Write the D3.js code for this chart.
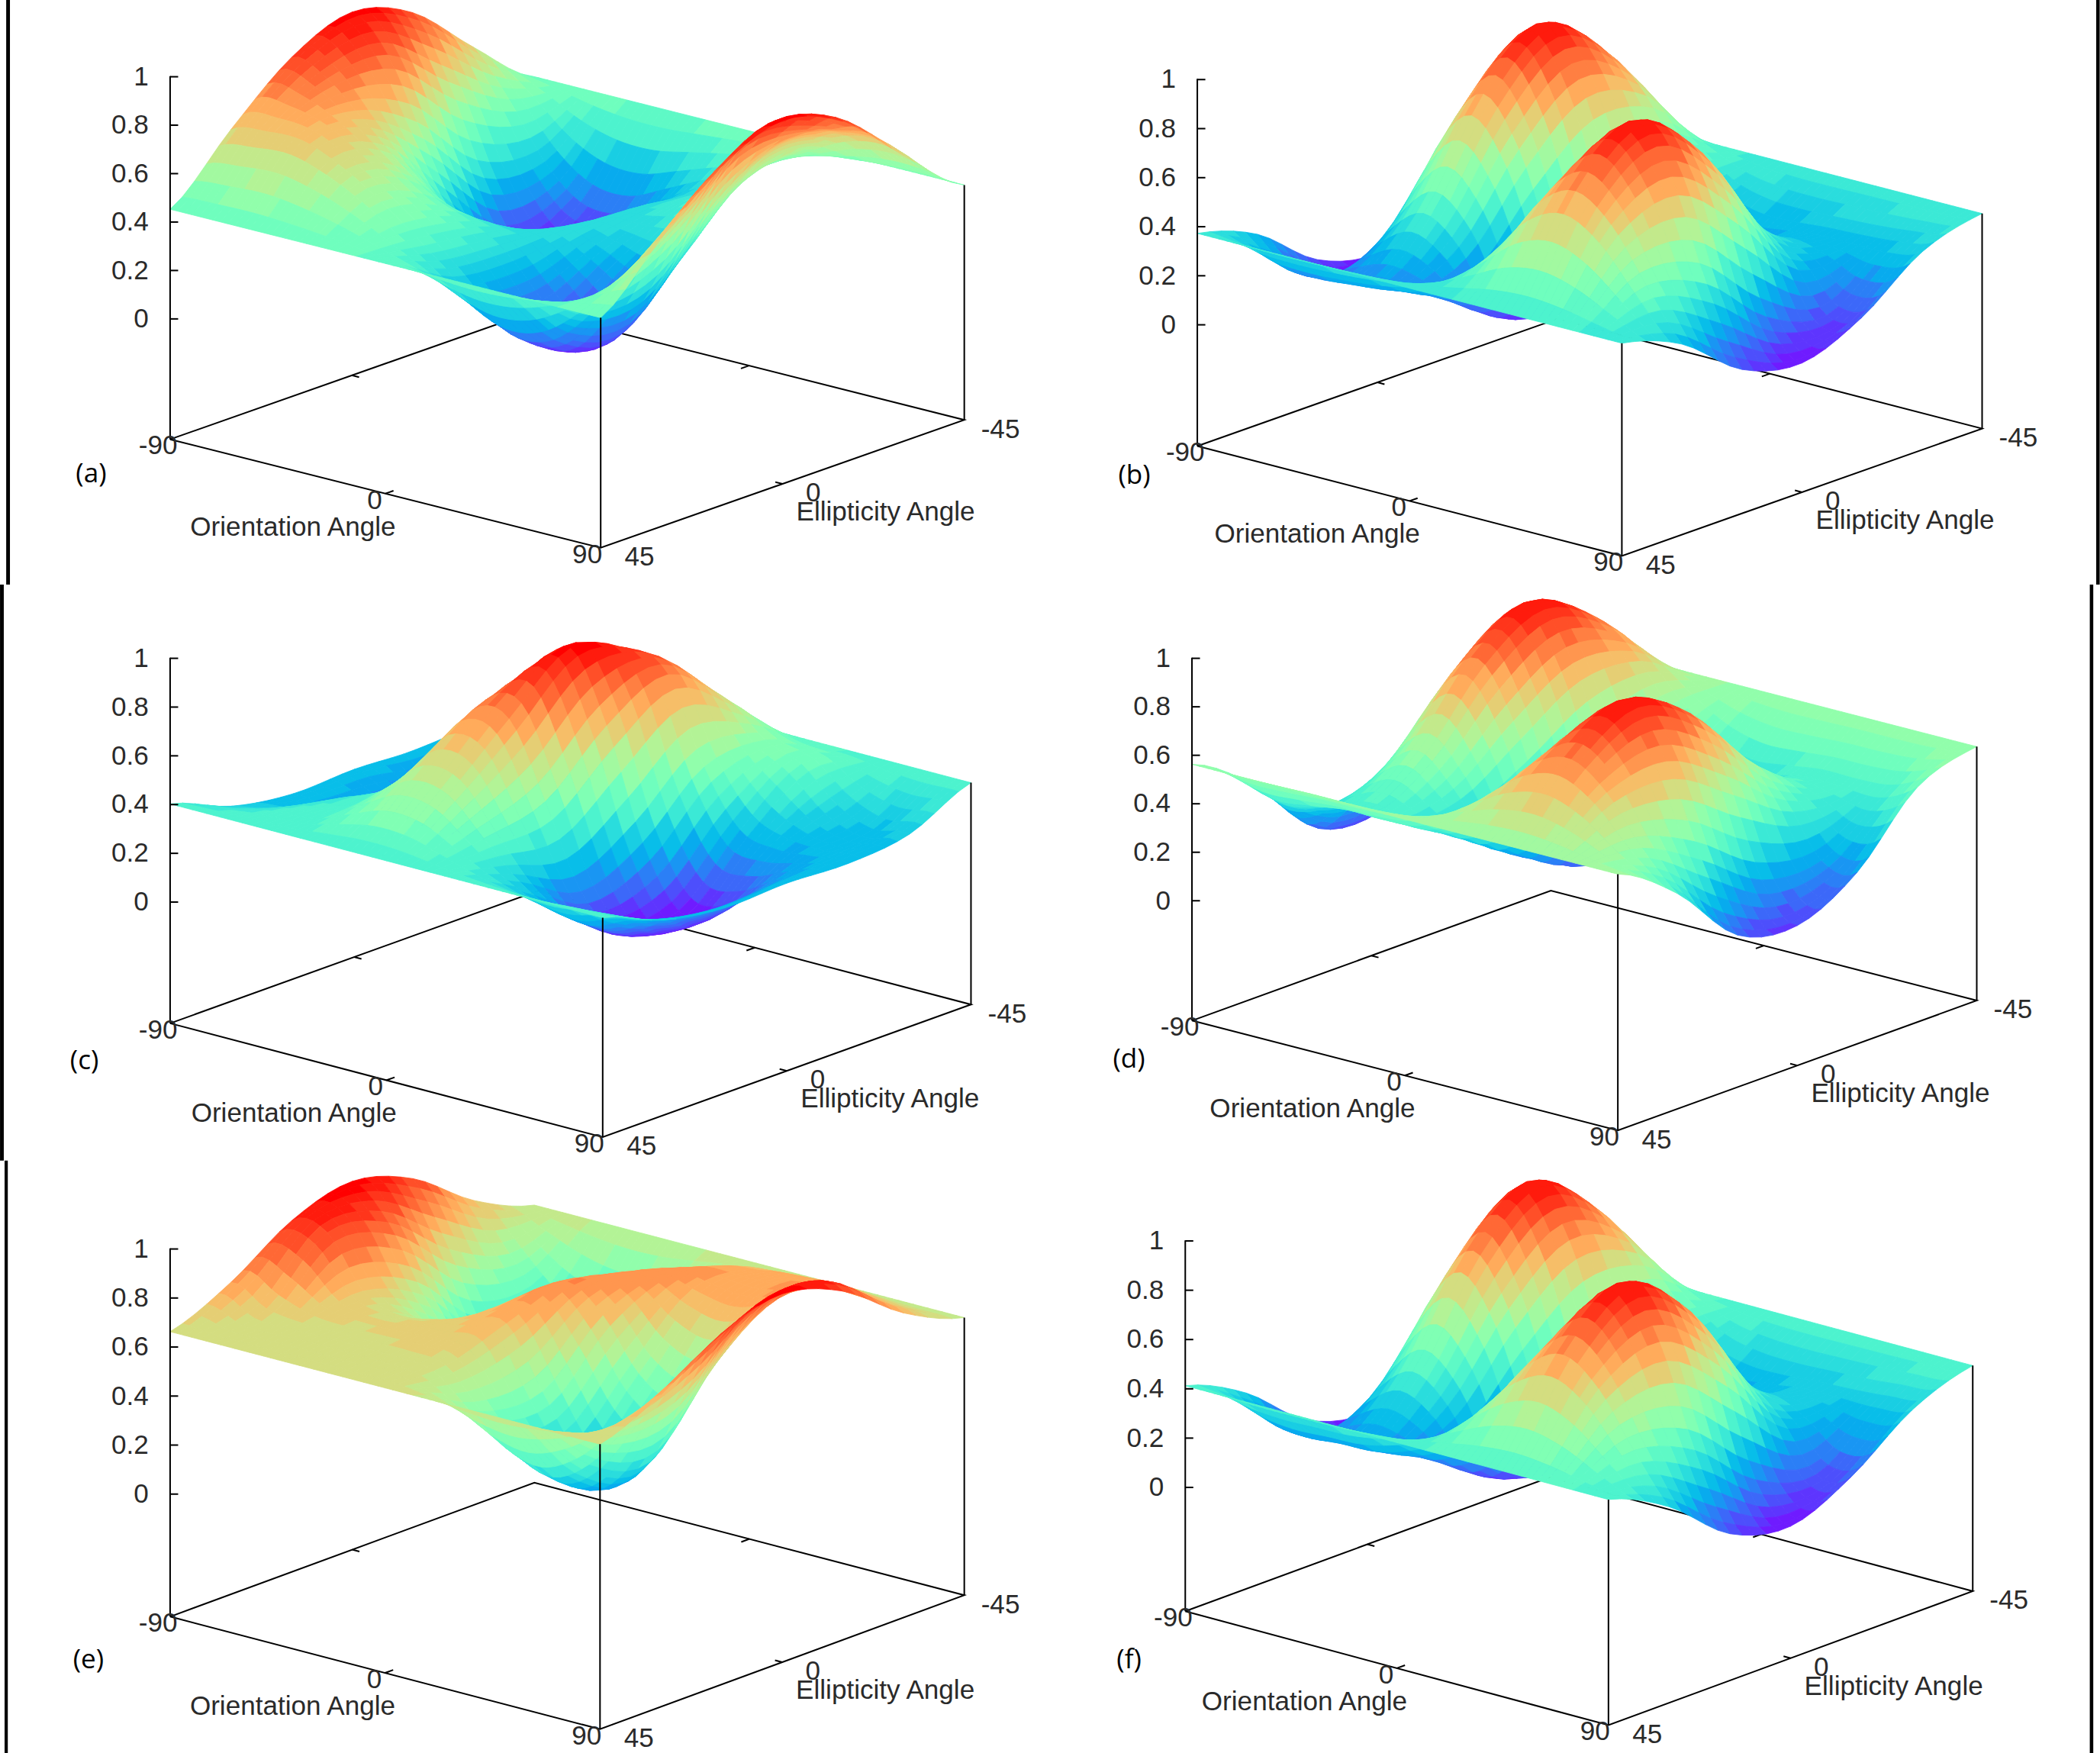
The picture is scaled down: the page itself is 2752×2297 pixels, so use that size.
<!DOCTYPE html>
<html lang="en">
<head>
  <meta charset="UTF-8">
  <title>Polarization signatures</title>
  <script src="https://cdn.jsdelivr.net/npm/d3@7"></script>
  <style>
    html, body { margin: 0; padding: 0; background: #fff; }
    svg { display: block; }
    text { font-family: "Liberation Sans", Arial, sans-serif; font-size: 20px; fill: #2a2a2a; }
    .tag { font-family: "Open Sans", sans-serif; font-size: 20px; fill: #000; }
    .axis path { display: none; }
    .axis line, .edge { stroke: #000; stroke-width: 1.15; fill: none; }
  </style>
</head>
<body>
<script>
  // tick labels
  const orientationTicks = [-90, 0, 90];
  const ellipticityTicks = [45, 0, -45];
  const heightTicks = [0, 0.2, 0.4, 0.6, 0.8, 1];

  // table axes: columns are orientation angles, rows are ellipticity angles
  const orientationAngles = [-90, -75, -60, -45, -30, -15, 0, 15, 30, 45, 60, 75, 90];
  const ellipticityAngles = [-45, -30, -15, 0, 15, 30, 45];

  // surface heights, one row per ellipticity angle
  const surfaceA = [
    [.47, .47, .47, .47, .47, .47, .47, .47, .47, .47, .47, .47, .47],
    [.68, .50, .28, .15, .14, .22, .31, .38, .48, .58, .68, .72, .68],
    [.91, .66, .30, .05, .06, .17, .32, .36, .42, .52, .72, .84, .91],
    [1.0, .86, .55, .27, .21, .28, .33, .28, .22, .29, .55, .86, 1.0],
    [.90, .85, .72, .58, .47, .41, .32, .16, .03, .07, .32, .66, .90],
    [.69, .72, .72, .66, .57, .46, .34, .21, .13, .16, .30, .50, .69],
    [.45, .45, .45, .45, .45, .45, .45, .45, .45, .45, .45, .45, .45]
  ];
  const surfaceB = [
    [.38, .38, .38, .38, .38, .38, .38, .38, .38, .38, .38, .38, .38],
    [.31, .50, .71, .79, .69, .48, .30, .24, .25, .27, .27, .27, .31],
    [.13, .43, .82, .99, .80, .40, .11, .10, .28, .39, .29, .10, .13],
    [.03, .23, .61, .79, .60, .22, .03, .23, .61, .79, .60, .18, .03],
    [.09, .08, .28, .39, .29, .07, .10, .43, .82, .99, .80, .40, .09],
    [.28, .17, .17, .19, .20, .22, .31, .50, .71, .79, .69, .48, .28],
    [.37, .37, .37, .37, .37, .37, .37, .37, .37, .37, .37, .37, .37]
  ];
  const surfaceC = [
    [.41, .41, .41, .41, .41, .41, .41, .41, .41, .41, .41, .41, .41],
    [.29, .18, .12, .15, .30, .50, .66, .64, .52, .46, .33, .27, .29],
    [.26, .12, .02, .04, .31, .72, .90, .84, .50, .28, .24, .25, .26],
    [.27, .20, .11, .17, .47, .84, 1.0, .72, .28, .04, .06, .18, .27],
    [.26, .25, .32, .40, .55, .80, .80, .50, .17, .04, .08, .18, .26],
    [.30, .33, .38, .40, .50, .60, .58, .44, .30, .22, .20, .26, .30],
    [.40, .40, .40, .40, .40, .40, .40, .40, .40, .40, .40, .40, .40]
  ];
  const surfaceD = [
    [.55, .55, .55, .55, .55, .55, .55, .55, .55, .55, .55, .55, .55],
    [.47, .63, .78, .83, .73, .54, .39, .34, .37, .40, .39, .39, .47],
    [.21, .51, .86, .98, .77, .40, .17, .23, .44, .55, .43, .22, .21],
    [.08, .32, .69, .84, .62, .25, .10, .32, .69, .84, .62, .23, .08],
    [.13, .23, .44, .55, .43, .25, .25, .51, .86, .98, .77, .40, .13],
    [.39, .34, .37, .40, .39, .39, .47, .63, .78, .83, .73, .54, .39],
    [.56, .56, .56, .56, .56, .56, .56, .56, .56, .56, .56, .56, .56]
  ];
  const surfaceE = [
    [.63, .63, .63, .63, .63, .63, .63, .63, .63, .63, .63, .63, .63],
    [.74, .56, .39, .30, .34, .49, .65, .74, .76, .77, .78, .76, .74],
    [.92, .67, .37, .20, .29, .54, .76, .80, .76, .74, .80, .92, .92],
    [1.0, .87, .61, .45, .52, .72, .82, .72, .52, .45, .61, .87, 1.0],
    [.93, .92, .72, .66, .68, .72, .74, .50, .28, .20, .33, .65, .93],
    [.77, .70, .68, .68, .68, .68, .66, .51, .37, .32, .41, .59, .77],
    [.66, .66, .66, .66, .66, .66, .66, .66, .66, .66, .66, .66, .66]
  ];
  const surfaceF = [
    [.41, .41, .41, .41, .41, .41, .41, .41, .41, .41, .41, .41, .41],
    [.32, .52, .71, .79, .69, .48, .31, .26, .27, .29, .29, .29, .32],
    [.14, .43, .82, .99, .79, .39, .11, .11, .29, .40, .30, .11, .14],
    [.03, .23, .61, .80, .60, .22, .03, .23, .61, .80, .60, .18, .03],
    [.09, .09, .29, .40, .30, .08, .11, .43, .82, .99, .79, .39, .09],
    [.29, .19, .18, .20, .20, .23, .32, .52, .71, .79, .69, .48, .29],
    [.41, .41, .41, .41, .41, .41, .41, .41, .41, .41, .41, .41, .41]
  ];

  // where each gnuplot box sits on the page
  const panels = [
    { tag: "(a)", rows: surfaceA, left: [127, 328], front: [448.5, 409], right: [720, 313.5], z0: 237.6, z1: 56.8, tagAt: [68, 355] },
    { tag: "(b)", rows: surfaceB, left: [894, 333], front: [1211, 415], right: [1480, 320], z0: 242, z1: 58.9, tagAt: [847, 356] },
    { tag: "(c)", rows: surfaceC, left: [127, 764], front: [450, 849], right: [725, 750], z0: 673, z1: 491, tagAt: [63, 793] },
    { tag: "(d)", rows: surfaceD, left: [890, 762], front: [1208, 844], right: [1476, 747], z0: 672, z1: 491, tagAt: [843, 792] },
    { tag: "(e)", rows: surfaceE, left: [127, 1207], front: [448, 1291], right: [720, 1191], z0: 1115, z1: 932, tagAt: [66, 1240] },
    { tag: "(f)", rows: surfaceF, left: [885, 1203], front: [1201, 1288], right: [1473, 1188], z0: 1110, z1: 926, tagAt: [843, 1240] }
  ];

  const w = 1568, h = 1308.8;
  const facetStep = 3;   // degrees per drawn facet
  const colorLevels = 30;

  const svg = d3.select("body").append("svg")
    .attr("width", 2752).attr("height", 2297)
    .attr("viewBox", `0 0 ${w} ${h}`);

  // gnuplot "rgbformulae 33,13,10"
  function palette(x) {
    const v = Math.round(x * colorLevels) / colorLevels;
    const r = Math.min(1, Math.abs(2 * v - 0.5));
    const g = Math.sin(Math.PI * v);
    const b = Math.cos(Math.PI * v / 2);
    return d3.rgb(r * 255, g * 255, b * 255).formatHex();
  }

  // smooth curve through the read values, for shading between table entries
  function spline(a, b, c, d, t) {
    return 0.5 * (2 * b + (c - a) * t + (2 * a - 5 * b + 4 * c - d) * t * t + (3 * b - a - 3 * c + d) * t * t * t);
  }
  function along(values, x, wrap) {
    const n = values.length;
    const i = Math.min(Math.floor(x), n - 2);
    const at = k => wrap ? values[((k % (n - 1)) + (n - 1)) % (n - 1)] : values[Math.max(0, Math.min(n - 1, k))];
    return spline(at(i - 1), at(i), at(i + 1), at(i + 2), x - i);
  }

  const psiIndex = d3.scaleLinear().domain(d3.extent(orientationAngles)).range([0, orientationAngles.length - 1]);
  const chiIndex = d3.scaleLinear().domain(d3.extent(ellipticityAngles)).range([0, ellipticityAngles.length - 1]);
  const psiFine = d3.range(-90, 90.01, facetStep);
  const chiFine = d3.range(-45, 45.01, facetStep);

  function drawPanel(p) {
    const g = svg.append("g");
    const across = d3.scaleLinear().domain([-90, 90]).range([0, 1]);
    const deep = d3.scaleLinear().domain([45, -45]).range([0, 1]);
    const up = d3.scaleLinear().domain([0, 1]).range([p.z0, p.z1]);
    const ux = p.front[0] - p.left[0], uy = p.front[1] - p.left[1];
    const vx = p.right[0] - p.front[0], vy = p.right[1] - p.front[1];
    const base = (psi, chi) => [p.left[0] + across(psi) * ux + deep(chi) * vx,
                                p.left[1] + across(psi) * uy + deep(chi) * vy];
    const project = (psi, chi, z) => {
      const b = base(psi, chi);
      return [b[0], b[1] - p.left[1] + up(z)];
    };

    const edge = d3.line();
    const box = [[-90, 45], [90, 45], [90, -45], [-90, -45], [-90, 45]].map(c => base(c[0], c[1]));
    g.append("path").attr("class", "edge").attr("d", edge(box));

    // small ticks on the floor, pointing inward
    orientationTicks.filter(t => t === 0).forEach(t => {
      g.append("path").attr("class", "edge").attr("d", edge([base(t, 45), base(t, 43)]));
      g.append("path").attr("class", "edge").attr("d", edge([base(t, -45), base(t, -43)]));
    });
    ellipticityTicks.filter(t => t === 0).forEach(t => {
      g.append("path").attr("class", "edge").attr("d", edge([base(-90, t), base(-87, t)]));
      g.append("path").attr("class", "edge").attr("d", edge([base(90, t), base(87, t)]));
    });

    // heights on the fine mesh
    const byRow = p.rows.map(row => psiFine.map(psi => along(row, psiIndex(psi), true)));
    const mesh = chiFine.map(chi => psiFine.map((psi, j) =>
      Math.max(0, Math.min(1, along(byRow.map(r => r[j]), chiIndex(chi), false)))));

    // back to front: far ellipticity first, then growing orientation
    const cells = [];
    chiFine.slice(0, -1).forEach((chi, i) => {
      psiFine.slice(0, -1).forEach((psi, j) => {
        const zs = [mesh[i][j], mesh[i][j + 1], mesh[i + 1][j + 1], mesh[i + 1][j]];
        cells.push({
          color: palette(d3.mean(zs)),
          pts: [project(psi, chi, zs[0]),
                project(psi + facetStep, chi, zs[1]),
                project(psi + facetStep, chi + facetStep, zs[2]),
                project(psi, chi + facetStep, zs[3])]
        });
      });
    });
    g.append("g").selectAll("path").data(cells).join("path")
      .attr("d", d => edge(d.pts) + "Z")
      .attr("fill", d => d.color)
      .attr("stroke", d => d.color)
      .attr("stroke-width", 0.5);

    // z axis on the left corner
    g.append("g").attr("class", "axis")
      .attr("transform", `translate(${p.left[0]},0)`)
      .call(d3.axisLeft(up).tickValues(heightTicks).tickFormat(d3.format("~g")).tickSize(-6).tickPadding(16))
      .call(a => a.selectAll("text").attr("y", 0));
    g.append("path").attr("class", "edge").attr("d", edge([[p.left[0], up(1)], p.left]));

    // verticals under the surface corners
    const last = p.rows.length - 1;
    g.append("path").attr("class", "edge").attr("d", edge([project(90, 45, p.rows[last][12]), p.front]));
    g.append("path").attr("class", "edge").attr("d", edge([project(90, -45, p.rows[0][12]), p.right]));

    // floor labels
    const label = (str, at, dx, dy) => g.append("text").attr("x", at[0] + dx).attr("y", at[1] + dy)
      .attr("text-anchor", "middle").attr("dominant-baseline", "middle").text(str);
    label(orientationTicks[0], base(-90, 45), -9, 6);
    label(orientationTicks[1], base(0, 45), -8, 6);
    label(orientationTicks[2], base(90, 45), -10, 6);
    label(ellipticityTicks[0], base(90, 45), 29, 8);
    label(ellipticityTicks[1], base(90, 0), 23, 8);
    label(ellipticityTicks[2], base(90, -45), 27, 8);
    label("Orientation Angle", base(0, 45), -69, 26);
    label("Ellipticity Angle", base(90, 0), 77, 22);
    g.append("text").attr("class", "tag").attr("x", p.tagAt[0]).attr("y", p.tagAt[1])
      .attr("text-anchor", "middle").attr("dominant-baseline", "middle").text(p.tag);
  }

  panels.forEach(drawPanel);

  // rough frame rules left over between the pasted plots
  const rules = [[6, 0, 6, 436.5, 2.8], [1566.5, 0, 1566.5, 436.5, 2.6], [1.4, 436.5, 1.4, 866.5, 2.8],
                 [1561.7, 436.5, 1561.7, 1309, 2.6], [4.6, 866.5, 4.6, 1309, 2.4]];
  svg.selectAll("line.rule").data(rules).join("line").attr("class", "rule")
    .attr("x1", d => d[0]).attr("y1", d => d[1]).attr("x2", d => d[2]).attr("y2", d => d[3])
    .attr("stroke", "#000").attr("stroke-width", d => d[4]);
</script>
</body>
</html>
